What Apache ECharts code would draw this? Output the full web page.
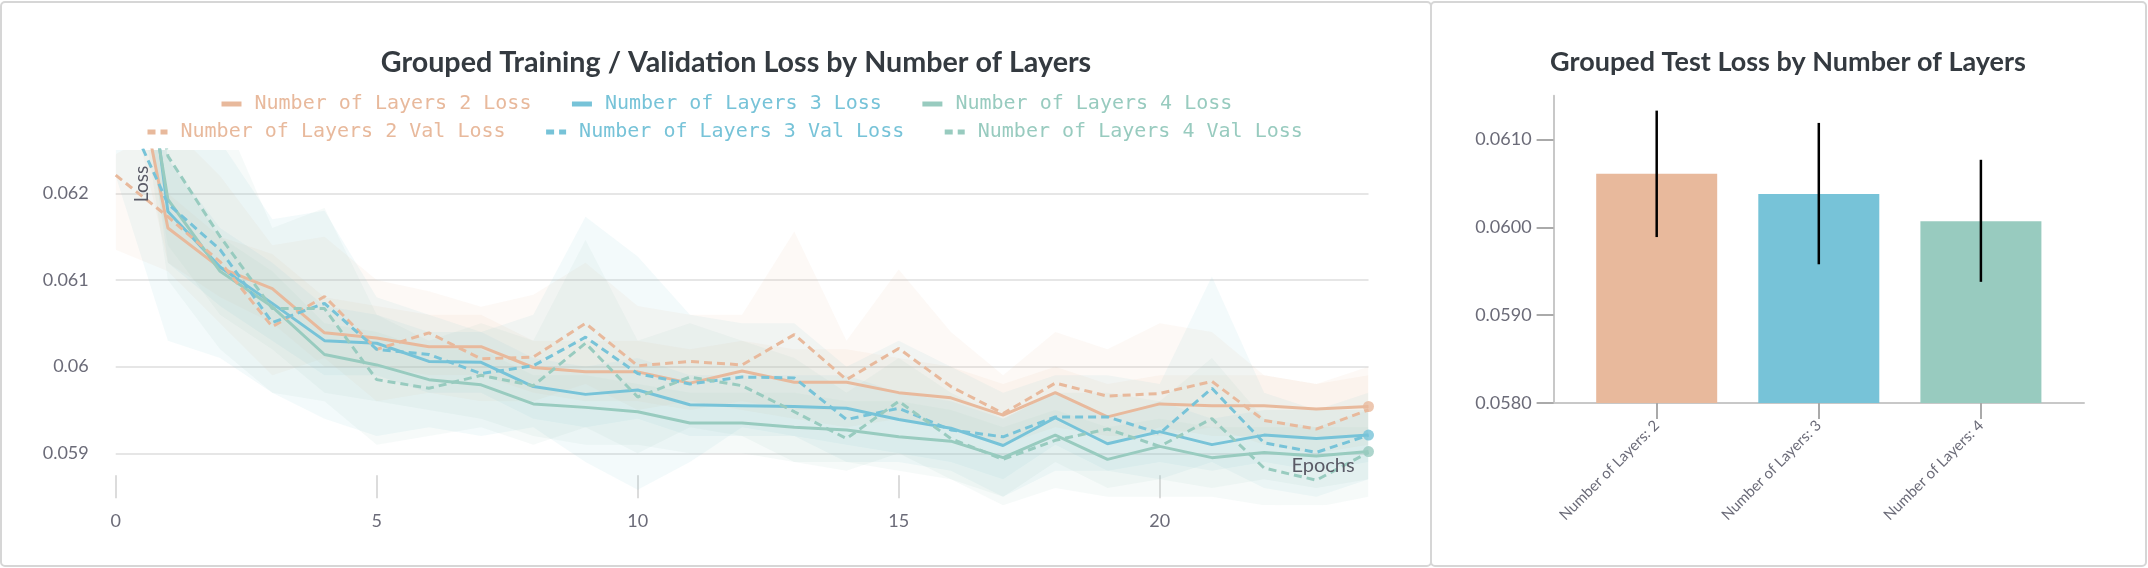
<!DOCTYPE html>
<html>
<head>
<meta charset="utf-8">
<script src="https://cdn.jsdelivr.net/npm/echarts@6/dist/echarts.min.js"></script>
<style>
  html, body { margin: 0; padding: 0; background: #fff; }
  #chart { width: 2148px; height: 568px; }
</style>
</head>
<body>
<div id="chart"></div>
<script>
// epochs 0..24
const epochs = [0, 1, 2, 3, 4, 5, 6, 7, 8, 9, 10, 11, 12, 13, 14, 15, 16, 17, 18, 19, 20, 21, 22, 23, 24];

// mean curves
const loss2 = [0.0646, 0.06160, 0.06114, 0.06090, 0.06039, 0.06033, 0.06023, 0.06023, 0.05999, 0.05994, 0.05994, 0.05981, 0.05995, 0.05982, 0.05982, 0.05970, 0.05964, 0.05944, 0.05970, 0.05942, 0.05957, 0.05955, 0.05955, 0.05951, 0.05954];
const loss3 = [0.0664, 0.06179, 0.06115, 0.06073, 0.06030, 0.06027, 0.06006, 0.06005, 0.05977, 0.05968, 0.05973, 0.05956, 0.05955, 0.05954, 0.05952, 0.05939, 0.05929, 0.05909, 0.05941, 0.05911, 0.05925, 0.05910, 0.05921, 0.05917, 0.05921];
const loss4 = [0.0656, 0.06193, 0.06110, 0.06069, 0.06014, 0.06002, 0.05985, 0.05979, 0.05957, 0.05953, 0.05948, 0.05935, 0.05935, 0.05930, 0.05927, 0.05919, 0.05914, 0.05895, 0.05921, 0.05893, 0.05908, 0.05895, 0.05901, 0.05897, 0.05902];
const val2 = [0.06221, 0.06173, 0.06121, 0.06046, 0.06081, 0.06020, 0.06039, 0.06009, 0.06011, 0.06050, 0.06001, 0.06006, 0.06002, 0.06037, 0.05985, 0.06021, 0.05977, 0.05946, 0.05981, 0.05966, 0.05969, 0.05983, 0.05938, 0.05928, 0.05950];
const val3 = [0.0632, 0.06188, 0.06135, 0.06051, 0.06073, 0.06020, 0.06014, 0.05992, 0.06001, 0.06034, 0.05992, 0.05980, 0.05988, 0.05987, 0.05939, 0.05952, 0.05927, 0.05919, 0.05942, 0.05942, 0.05923, 0.05975, 0.05912, 0.05901, 0.05921];
const val4 = [0.0660, 0.06243, 0.06150, 0.06067, 0.06067, 0.05985, 0.05975, 0.05990, 0.05978, 0.06027, 0.05965, 0.05988, 0.05978, 0.05948, 0.05917, 0.05960, 0.05917, 0.05893, 0.05915, 0.05928, 0.05908, 0.05940, 0.05883, 0.05869, 0.05901];

// min / max envelopes
const loss2Hi = [0.0654, 0.0620, 0.0615, 0.0613, 0.0608, 0.0607, 0.0606, 0.0606, 0.0603, 0.0603, 0.0603, 0.0602, 0.0603, 0.0602, 0.0602, 0.0601, 0.0600, 0.0598, 0.0600, 0.0598, 0.0599, 0.0599, 0.0599, 0.0598, 0.0599];
const loss2Lo = [0.0638, 0.0612, 0.0608, 0.0605, 0.0600, 0.0600, 0.0599, 0.0599, 0.0597, 0.0596, 0.0596, 0.0595, 0.0596, 0.0595, 0.0595, 0.0594, 0.0593, 0.0591, 0.0594, 0.0591, 0.0593, 0.0592, 0.0592, 0.0592, 0.0592];
const loss3Hi = [0.0672, 0.0624, 0.0616, 0.0612, 0.0607, 0.0606, 0.0604, 0.0604, 0.0601, 0.0600, 0.0601, 0.0599, 0.0599, 0.0599, 0.0599, 0.0597, 0.0596, 0.0594, 0.0597, 0.0594, 0.0596, 0.0594, 0.0595, 0.0595, 0.0595];
const loss3Lo = [0.0656, 0.0612, 0.0607, 0.0603, 0.0599, 0.0599, 0.0597, 0.0597, 0.0594, 0.0593, 0.0594, 0.0592, 0.0592, 0.0592, 0.0591, 0.0590, 0.0589, 0.0587, 0.0591, 0.0588, 0.0589, 0.0588, 0.0589, 0.0588, 0.0589];
const loss4Hi = [0.0664, 0.0624, 0.0615, 0.0611, 0.0605, 0.0604, 0.0602, 0.0602, 0.0599, 0.0599, 0.0598, 0.0597, 0.0597, 0.0597, 0.0596, 0.0596, 0.0595, 0.0593, 0.0595, 0.0593, 0.0594, 0.0593, 0.0593, 0.0593, 0.0593];
const loss4Lo = [0.0648, 0.0614, 0.0606, 0.0602, 0.0597, 0.0596, 0.0595, 0.0594, 0.0592, 0.0591, 0.0591, 0.0590, 0.0590, 0.0589, 0.0589, 0.0588, 0.0587, 0.0585, 0.0589, 0.0586, 0.0587, 0.0586, 0.0587, 0.0586, 0.0587];
const val2Hi = [0.06245, 0.0628, 0.0622, 0.0614, 0.0615, 0.0610, 0.06087, 0.06069, 0.06083, 0.0612, 0.0607, 0.0606, 0.0606, 0.06156, 0.0603, 0.06112, 0.0604, 0.0599, 0.0604, 0.0602, 0.0605, 0.0604, 0.0599, 0.0598, 0.0600];
const val2Lo = [0.06135, 0.0611, 0.0605, 0.0599, 0.0601, 0.0596, 0.0597, 0.0596, 0.0596, 0.0598, 0.0595, 0.0596, 0.0595, 0.0594, 0.0593, 0.0594, 0.0593, 0.0591, 0.0593, 0.0592, 0.0592, 0.0593, 0.0591, 0.0590, 0.0591];
const val3Hi = [0.0640, 0.0632, 0.0626, 0.0617, 0.0618, 0.0608, 0.0606, 0.0604, 0.0606, 0.06173, 0.06127, 0.0606, 0.0605, 0.0605, 0.0600, 0.0603, 0.0600, 0.0597, 0.0599, 0.0599, 0.0598, 0.06104, 0.0597, 0.0595, 0.0597];
const val3Lo = [0.0622, 0.0603, 0.0601, 0.0597, 0.0594, 0.0592, 0.0593, 0.0592, 0.0593, 0.0589, 0.05858, 0.0589, 0.0593, 0.0592, 0.0589, 0.0589, 0.0588, 0.0585, 0.0588, 0.0588, 0.0587, 0.0589, 0.0586, 0.0585, 0.0587];
const val4Hi = [0.0670, 0.0636, 0.0630, 0.0616, 0.06183, 0.0606, 0.0603, 0.0605, 0.0603, 0.06146, 0.0603, 0.0605, 0.0603, 0.0601, 0.0597, 0.0601, 0.0597, 0.0594, 0.0597, 0.0597, 0.0596, 0.0601, 0.0594, 0.0593, 0.0595];
const val4Lo = [0.0650, 0.0610, 0.0602, 0.0597, 0.0596, 0.0591, 0.0592, 0.0593, 0.0591, 0.0593, 0.0590, 0.0593, 0.0592, 0.0589, 0.0588, 0.0590, 0.0587, 0.0584, 0.0586, 0.0585, 0.0585, 0.0585, 0.0584, 0.05838, 0.0585];

const xTicks = [0, 5, 10, 15, 20];

// test loss bars
const testCats = ['Number of Layers: 2', 'Number of Layers: 3', 'Number of Layers: 4'];
const testMean = [0.06061, 0.06038, 0.06007];
const testLow = [0.05989, 0.05958, 0.05938];
const testHigh = [0.06133, 0.06119, 0.06077];
const testTicks = [0.058, 0.059, 0.060, 0.061];

const COLORS = ['#E8B99C', '#77C3D8', '#98CBBF'];
const BAND_RGB = ['232,185,156', '119,195,216', '152,203,191'];
const LABEL = '#6b6b78';

const groups = [
  { name: 'Number of Layers 2', loss: loss2, val: val2, bands: [[loss2Lo, loss2Hi], [val2Lo, val2Hi]] },
  { name: 'Number of Layers 3', loss: loss3, val: val3, bands: [[loss3Lo, loss3Hi], [val3Lo, val3Hi]] },
  { name: 'Number of Layers 4', loss: loss4, val: val4, bands: [[loss4Lo, loss4Hi], [val4Lo, val4Hi]] }
];

const pairs = arr => epochs.map((e, i) => [e, arr[i]]);

const series = [];

// shaded min/max bands, one polygon per band
groups.forEach((g, gi) => {
  g.bands.forEach(([lo, hi]) => {
    series.push({
      type: 'custom', xAxisIndex: 0, yAxisIndex: 0, silent: true, clip: true, z: 1,
      data: epochs.map((e, i) => [e, lo[i], hi[i]]),
      encode: { x: 0, y: [1, 2] },
      renderItem: (params, api) => {
        if (params.dataIndex !== 0) return null;
        const top = epochs.map((e, i) => api.coord([e, hi[i]]));
        const bottom = epochs.map((e, i) => api.coord([e, lo[i]])).reverse();
        const cs = params.coordSys;
        return {
          type: 'polygon',
          shape: { points: top.concat(bottom) },
          clipPath: { type: 'rect', shape: { x: cs.x, y: cs.y, width: cs.width, height: cs.height } },
          style: { fill: 'rgba(' + BAND_RGB[gi] + ',0.09)' }
        };
      }
    });
  });
});

groups.forEach((g, gi) => {
  series.push({
    type: 'line', name: g.name + ' Loss', data: pairs(g.loss), symbol: 'none',
    color: COLORS[gi], lineStyle: { color: COLORS[gi], width: 3 }, z: 3
  });
});
groups.forEach((g, gi) => {
  series.push({
    type: 'line', name: g.name + ' Val Loss', data: pairs(g.val), symbol: 'none',
    color: COLORS[gi], lineStyle: { color: COLORS[gi], width: 3, type: [8, 5] }, z: 3
  });
});
groups.forEach((g, gi) => {
  series.push({
    type: 'scatter', name: g.name + ' end', data: [[epochs[epochs.length - 1], g.loss[g.loss.length - 1]]],
    symbolSize: 11, itemStyle: { color: COLORS[gi] }, z: 4, silent: true
  });
});

// right panel: bars + error bars
series.push({
  type: 'bar', xAxisIndex: 1, yAxisIndex: 1, barWidth: 121,
  data: testMean.map((v, i) => ({ value: [i, v], itemStyle: { color: COLORS[i] } }))
});
series.push({
  type: 'custom', xAxisIndex: 1, yAxisIndex: 1, z: 5,
  data: testLow.map((lo, i) => [i, lo, testHigh[i]]),
  encode: { x: 0, y: [1, 2] },
  renderItem: (params, api) => {
    const x = api.value(0);
    const a = api.coord([x, api.value(1)]);
    const b = api.coord([x, api.value(2)]);
    return {
      type: 'line',
      shape: { x1: a[0], y1: a[1], x2: b[0], y2: b[1] },
      style: { stroke: '#000', lineWidth: 2.5 }
    };
  }
});

const legendBase = {
  itemWidth: 20, itemHeight: 10, itemGap: 38,
  lineStyle: { width: 5 },
  itemStyle: { opacity: 0 },
  textStyle: { fontFamily: 'DejaVu Sans Mono', fontSize: 20, padding: [0, 0, 0, 8], lineHeight: 24 },
  selectedMode: false
};

const titleText = { fontFamily: 'Lato', fontSize: 27, fontWeight: 'bold', color: '#343a40' };

const option = {
  animation: false,
  backgroundColor: '#fff',
  title: [
    { text: 'Grouped Training / Validation Loss by Number of Layers', left: 736, top: 48, textAlign: 'center', padding: 0,
      textStyle: Object.assign({}, titleText, { fontSize: 28.7 }) },
    { text: 'Grouped Test Loss by Number of Layers', left: 1788, top: 49, textAlign: 'center', padding: 0,
      textStyle: titleText }
  ],
  legend: [
    Object.assign({}, legendBase, {
      left: 214, top: 87,
      data: groups.map((g, gi) => ({ name: g.name + ' Loss', textStyle: { color: COLORS[gi] } }))
    }),
    Object.assign({}, legendBase, {
      left: 140, top: 115,
      data: groups.map((g, gi) => ({ name: g.name + ' Val Loss', textStyle: { color: COLORS[gi] } }))
    })
  ],
  grid: [
    { left: 115.7, right: 779.5, top: 150, bottom: 62.7, outerBoundsMode: 'none' },
    { left: 1553.6, right: 64, top: 95.7, bottom: 165, outerBoundsMode: 'none' }
  ],
  xAxis: [
    {
      type: 'value', gridIndex: 0, min: 0, max: 24, offset: -7,
      axisLine: { show: false, onZero: false },
      axisTick: { show: true, inside: true, length: 23, customValues: xTicks, lineStyle: { color: '#dcdcdc', width: 2 } },
      axisLabel: { customValues: xTicks, margin: 14, fontFamily: 'Lato', fontSize: 18, color: LABEL },
      splitLine: { show: false }
    },
    {
      type: 'value', gridIndex: 1, min: -0.636, max: 2.636,
      axisLine: { show: true, onZero: false, lineStyle: { color: '#c8c8c8', width: 2 } },
      axisTick: { show: true, length: 16, customValues: [0, 1, 2], lineStyle: { color: '#aaaaaa', width: 2 } },
      axisLabel: { customValues: [0, 1, 2], rotate: 45, margin: 20, fontFamily: 'Lato', fontSize: 15, color: LABEL,
        formatter: v => testCats[Math.round(v)] },
      splitLine: { show: false }
    }
  ],
  yAxis: [
    {
      type: 'value', gridIndex: 0, min: 0.0584, max: 0.0625,
      axisLine: { show: false, onZero: false }, axisTick: { show: false },
      axisLabel: { margin: 27, align: 'right', fontFamily: 'Lato', fontSize: 18, color: LABEL, showMinLabel: false, showMaxLabel: false },
      splitLine: { show: true, showMinLine: false, showMaxLine: false, lineStyle: { color: '#e6e6e6', width: 2 } }
    },
    {
      type: 'value', gridIndex: 1, min: 0.058, max: 0.0615,
      axisLine: { show: true, onZero: false, lineStyle: { color: '#c8c8c8', width: 2 } },
      axisTick: { show: true, length: 17, customValues: testTicks, lineStyle: { color: '#aaaaaa', width: 2 } },
      axisLabel: { customValues: testTicks, margin: 22, fontFamily: 'Lato', fontSize: 18, color: LABEL,
        formatter: v => v.toFixed(4) },
      splitLine: { show: false }
    }
  ],
  graphic: [
    { type: 'rect', z: 0, shape: { x: 1, y: 2, width: 1430, height: 564, r: 4 },
      style: { fill: 'none', stroke: '#d6d6d6', lineWidth: 2 }, silent: true },
    { type: 'rect', z: 0, shape: { x: 1431, y: 2, width: 715, height: 564, r: 4 },
      style: { fill: 'none', stroke: '#d6d6d6', lineWidth: 2 }, silent: true },
    { type: 'text', z: 100, x: 142, y: 184, rotation: Math.PI / 2,
      style: { text: 'Loss', fontFamily: 'Lato', fontSize: 19, fill: '#5a5a66', align: 'center', verticalAlign: 'middle' } },
    { type: 'text', z: 100, x: 1323, y: 466,
      style: { text: 'Epochs', fontFamily: 'Lato', fontSize: 20, fill: '#5a5a66', align: 'center', verticalAlign: 'middle' } }
  ],
  series: series
};

const chart = echarts.init(document.getElementById('chart'));
chart.setOption(option);
</script>
</body>
</html>
